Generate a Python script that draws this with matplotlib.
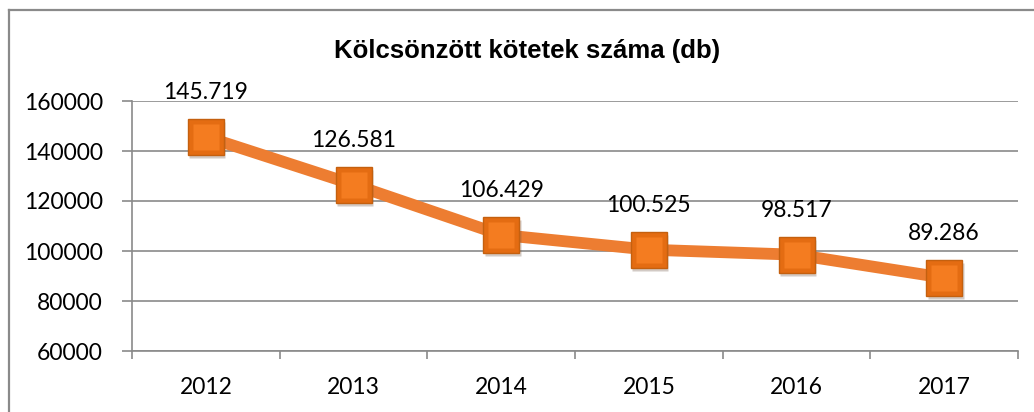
import matplotlib
matplotlib.use("Agg")
import matplotlib.pyplot as plt
from matplotlib.lines import Line2D
from matplotlib.transforms import offset_copy

years = ["2012", "2013", "2014", "2015", "2016", "2017"]
values = [145719, 126581, 106429, 100525, 98517, 89286]
labels = ["145.719", "126.581", "106.429", "100.525", "98.517", "89.286"]
yticks = [60000, 80000, 100000, 120000, 140000, 160000]
title = "Kölcsönzött kötetek száma (db)"

W, H = 1034, 412
fig = plt.figure(figsize=(W / 100, H / 100), dpi=100)
fig.patch.set_facecolor("white")

# outer border (left and top visible)
fig.add_artist(Line2D([9 / W, 9 / W], [0, 1 - 10 / H], transform=fig.transFigure,
                      color="#8a8a8a", lw=1.6))
fig.add_artist(Line2D([9 / W, 1], [1 - 10 / H, 1 - 10 / H], transform=fig.transFigure,
                      color="#8a8a8a", lw=1.6))

ax = fig.add_axes([132 / W, 1 - 351 / H, (1018 - 132) / W, (351 - 101) / H])
x = [i + 0.5 for i in range(len(years))]

ax.set_xlim(0, 6)
ax.set_ylim(60000, 160000)
ax.set_yticks(yticks)
ax.set_yticklabels([str(v) for v in yticks])
ax.set_xticks(range(7))
ax.set_xticklabels([])
ax.set_xticks(x, minor=True)
ax.set_xticklabels(years, minor=True)
ax.tick_params(axis="x", which="minor", length=0, pad=19)
ax.tick_params(axis="x", which="major", length=6, color="#8a8a8a", width=1.2)
ax.tick_params(axis="y", length=7, color="#8a8a8a", width=1.2, pad=14)
for t in ax.get_yticklabels() + ax.get_xticklabels(minor=True):
    t.set_fontsize(16.5)
    t.set_fontfamily("Lato")
    t.set_color("#000000")

ax.grid(axis="y", color="#8a8a8a", lw=1.2)
ax.set_axisbelow(True)
for s in ["top", "right"]:
    ax.spines[s].set_visible(False)
ax.spines["left"].set_color("#8a8a8a")
ax.spines["bottom"].set_color("#8a8a8a")
ax.spines["left"].set_linewidth(1.2)
ax.spines["bottom"].set_linewidth(1.2)

ms = 26
ax.plot(x, values, color="#ED7D31", lw=8.5, solid_capstyle="butt", zorder=3)
# shadow
sh = offset_copy(ax.transData, fig=fig, x=1, y=-2.5, units="points")
ax.plot(x, values, ls="none", marker="s", ms=ms, color="#6a5040", alpha=0.3,
        mec="none", transform=sh, zorder=4)
ax.plot(x, values, ls="none", marker="s", ms=ms, mfc="#E46C12", mec="#C4600F",
        mew=1.0, zorder=5)
ax.plot(x, values, ls="none", marker="s", ms=ms * 0.74, mfc="#F47C20", mec="none",
        zorder=6)

for xi, v, lab in zip(x, values, labels):
    ax.annotate(lab, (xi, v), xytext=(0, 32), textcoords="offset points",
                ha="center", va="center", fontsize=16.5, family="Lato",
                color="#000000", zorder=7)

fig.text(527 / W, 1 - 51 / H, title, ha="center", va="center",
         fontsize=18.5, fontweight="bold", family="Liberation Sans", color="#000000")

fig.savefig("out.png", dpi=100)
